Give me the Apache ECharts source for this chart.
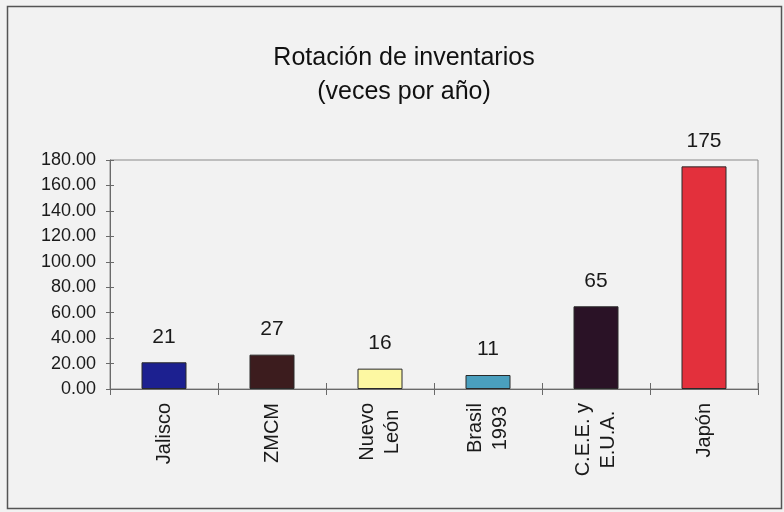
<!DOCTYPE html>
<html>
<head>
<meta charset="utf-8">
<script src="https://cdn.jsdelivr.net/npm/echarts@6/dist/echarts.min.js"></script>
<style>
  html, body { margin: 0; padding: 0; background: #f2f2f2; }
  #chart { width: 784px; height: 512px; }
</style>
</head>
<body>
<div id="chart"></div>
<script>
// Inventory turnover (times per year) by region
const categories = ['Jalisco', 'ZMCM', 'Nuevo\nLeón', 'Brasil\n1993', 'C.E.E. y\nE.U.A.', 'Japón'];
const turnover = [21, 27, 16, 11, 65, 175];
const barColors = ['#1c2090', '#3c1c1e', '#fdf8a2', '#4a9fbe', '#2a1226', '#e3303c'];
const yTicks = { min: 0, max: 180, interval: 20 };

const font = 'Arial, "Liberation Sans", Helvetica, sans-serif';
const axisColor = '#6a6a6a';

const chart = echarts.init(document.getElementById('chart'), null, { renderer: 'canvas' });

const baseX = {
  type: 'category',
  data: categories,
  position: 'bottom',
  boundaryGap: true
};
const baseY = {
  type: 'value',
  min: yTicks.min,
  max: yTicks.max,
  interval: yTicks.interval,
  position: 'left'
};

// each line of a category label is centred within its block
const centredLines = s => s.split('\n').map(line => '{c|' + line + '}').join('\n');

chart.setOption({
  backgroundColor: '#f2f2f2',
  animation: false,
  title: {
    text: 'Rotación de inventarios\n(veces por año)',
    left: 399,
    top: 36,
    textAlign: 'center',
    textStyle: {
      fontFamily: font,
      fontSize: 25,
      fontWeight: 'normal',
      color: '#111',
      lineHeight: 34
    }
  },
  graphic: [{
    type: 'rect',
    silent: true,
    z: -1,
    shape: { x: 7.5, y: 6.5, width: 774, height: 502 },
    style: { fill: 'none', stroke: '#555', lineWidth: 1.5 }
  }],
  grid: {
    left: 110, right: 26, top: 160, bottom: 123,
    show: true,
    borderColor: '#8a8a8a',
    borderWidth: 1,
    backgroundColor: 'transparent'
  },
  xAxis: [
    Object.assign({}, baseX, {
      axisLine: { lineStyle: { color: axisColor, width: 1 } },
      axisTick: { show: true, length: 6, lineStyle: { color: axisColor } },
      axisLabel: {
        rotate: 90,
        margin: 14,
        interval: 0,
        formatter: centredLines,
        rich: {
          c: {
            align: 'center',
            fontFamily: font,
            fontSize: 20,
            lineHeight: 25,
            color: '#1a1a1a'
          }
        }
      }
    }),
    // inner half of the cross tick marks
    Object.assign({}, baseX, {
      axisLine: { show: false },
      axisTick: { show: true, inside: true, length: 6, lineStyle: { color: axisColor } },
      axisLabel: { show: false }
    })
  ],
  yAxis: [
    Object.assign({}, baseY, {
      axisLine: { show: true, lineStyle: { color: axisColor, width: 1 } },
      axisTick: { show: true, length: 4, lineStyle: { color: axisColor } },
      splitLine: { show: false },
      axisLabel: {
        margin: 14,
        fontFamily: font,
        fontSize: 18,
        color: '#1a1a1a',
        formatter: v => v.toFixed(2)
      }
    }),
    Object.assign({}, baseY, {
      axisLine: { show: false },
      axisTick: { show: true, inside: true, length: 4, lineStyle: { color: axisColor } },
      splitLine: { show: false },
      axisLabel: { show: false }
    })
  ],
  series: [{
    type: 'bar',
    xAxisIndex: 0,
    yAxisIndex: 0,
    barWidth: 45,
    data: turnover.map((v, i) => ({
      value: v,
      itemStyle: { color: barColors[i], borderColor: '#2a2a2a', borderWidth: 1 }
    })),
    label: {
      show: true,
      position: 'top',
      distance: 15,
      fontFamily: font,
      fontSize: 21,
      color: '#1a1a1a'
    }
  }]
});
</script>
</body>
</html>
